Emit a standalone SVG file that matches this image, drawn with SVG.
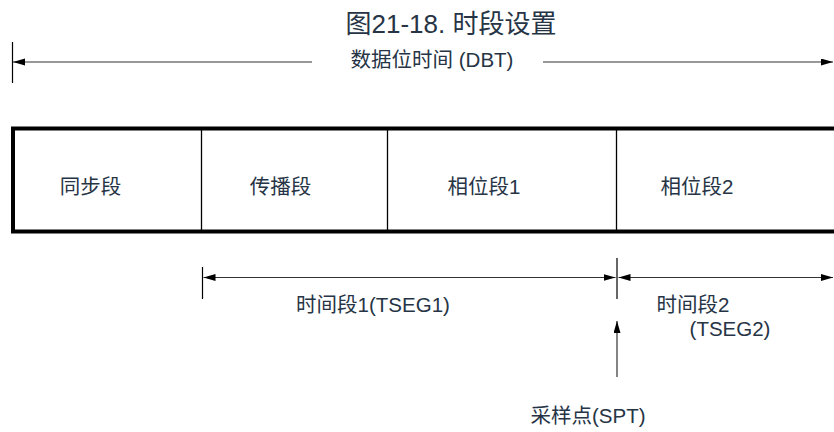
<svg xmlns="http://www.w3.org/2000/svg" width="834" height="432" viewBox="0 0 834 432">
<style>
.t{font-family:"Liberation Sans","Noto Sans CJK SC",sans-serif;fill:#263445;text-anchor:middle}
.lbl{font-size:20.5px}
.ttl{font-size:26px}
.ln{stroke:#333;stroke-width:1.2;fill:none}
.tick{stroke:#000;stroke-width:1.2}
.div{stroke:#000;stroke-width:1.3}
</style>
<defs>
<marker id="ah" markerUnits="userSpaceOnUse" markerWidth="13" markerHeight="8" refX="12" refY="3.5" orient="auto-start-reverse">
<path d="M0,0 L12,3.5 L0,7 z" fill="#000"/>
</marker>
</defs>
<g id="title"><text class="t ttl" x="451" y="33">图21-18. 时段设置</text></g>
<g id="frame">
<rect x="13" y="128.5" width="900" height="103" fill="none" stroke="#000" stroke-width="4"/>
<line class="div" x1="201.5" y1="129" x2="201.5" y2="231"/>
<line class="div" x1="387.5" y1="129" x2="387.5" y2="231"/>
<line class="div" x1="616.5" y1="129" x2="616.5" y2="231"/>
</g>
<g id="sync"><text class="t lbl" x="90.5" y="194">同步段</text></g>
<g id="prop"><text class="t lbl" x="280.5" y="194">传播段</text></g>
<g id="phase1"><text class="t lbl" x="484" y="194">相位段1</text></g>
<g id="phase2"><text class="t lbl" x="697" y="194">相位段2</text></g>
<g id="dbt"><text class="t lbl" x="432" y="67">数据位时间 (DBT)</text></g>
<g id="tseg1"><text class="t lbl" x="373" y="312">时间段1(TSEG1)</text></g>
<g id="tseg2"><text class="t lbl" x="693" y="312">时间段2</text><text class="t lbl" x="730" y="336">(TSEG2)</text></g>
<g id="spt"><text class="t lbl" x="588" y="423">采样点(SPT)</text></g>
<g id="connectors">
<line class="tick" x1="12.5" y1="42" x2="12.5" y2="83"/>
<line class="ln" x1="312" y1="62" x2="13" y2="62" marker-end="url(#ah)"/>
<line class="ln" x1="543" y1="62" x2="833" y2="62" marker-end="url(#ah)"/>
<line class="tick" x1="202.5" y1="267" x2="202.5" y2="299"/>
<line class="ln" x1="203.5" y1="277.5" x2="615.5" y2="277.5" marker-start="url(#ah)" marker-end="url(#ah)"/>
<line class="tick" x1="617" y1="258" x2="617" y2="299"/>
<line class="ln" x1="618.5" y1="277.5" x2="833" y2="277.5" marker-start="url(#ah)" marker-end="url(#ah)"/>
<line class="ln" x1="617" y1="377" x2="617" y2="321" marker-end="url(#ah)"/>
</g>
</svg>
